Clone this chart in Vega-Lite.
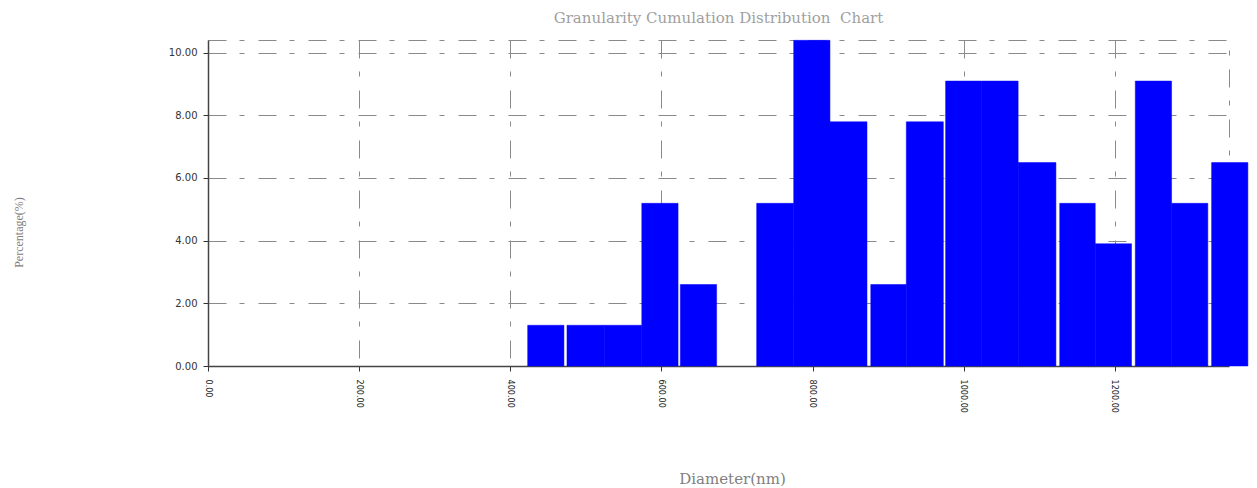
{
  "$schema": "https://vega.github.io/schema/vega-lite/v6.json",
  "autosize": "none",
  "width": 1021,
  "height": 326,
  "padding": {"left": 208, "top": 40, "right": 28, "bottom": 122},
  "background": "white",
  "title": {
    "text": "Granularity Cumulation Distribution\u00a0 Chart",
    "font": "DejaVu Serif",
    "fontSize": 15,
    "fontWeight": "normal",
    "color": "#a0a0a0",
    "offset": 14,
    "anchor": "middle"
  },
  "config": {
    "view": {"stroke": "#8a8a8a", "strokeWidth": 1, "strokeDash": [18, 13, 5, 14]}
  },
  "data": {
    "values": [
      {"lo": 423, "hi": 471, "pct": 1.30},
      {"lo": 475, "hi": 525, "pct": 1.30},
      {"lo": 525, "hi": 574, "pct": 1.30},
      {"lo": 574, "hi": 622, "pct": 5.19},
      {"lo": 625, "hi": 673, "pct": 2.60},
      {"lo": 726, "hi": 775, "pct": 5.19},
      {"lo": 775, "hi": 823, "pct": 10.39},
      {"lo": 823, "hi": 872, "pct": 7.79},
      {"lo": 877, "hi": 924, "pct": 2.60},
      {"lo": 924, "hi": 973, "pct": 7.79},
      {"lo": 976, "hi": 1024, "pct": 9.09},
      {"lo": 1024, "hi": 1072, "pct": 9.09},
      {"lo": 1072, "hi": 1122, "pct": 6.49},
      {"lo": 1127, "hi": 1174, "pct": 5.19},
      {"lo": 1174, "hi": 1222, "pct": 3.90},
      {"lo": 1227, "hi": 1275, "pct": 9.09},
      {"lo": 1275, "hi": 1323, "pct": 5.19},
      {"lo": 1328, "hi": 1376, "pct": 6.49}
    ]
  },
  "mark": {"type": "bar", "color": "#0000ff", "stroke": "#0000ff", "strokeWidth": 0.5, "clip": false},
  "encoding": {
    "x": {
      "field": "lo",
      "type": "quantitative",
      "scale": {"domain": [0, 1351], "nice": false, "zero": true},
      "axis": {
        "title": "Diameter(nm)",
        "titleFont": "DejaVu Serif",
        "titleFontSize": 15,
        "titleFontWeight": "normal",
        "titleColor": "#808080",
        "titleX": 524,
        "titleY": 112,
        "titleBaseline": "middle",
        "values": [0, 200, 400, 600, 800, 1000, 1200],
        "format": ".2f",
        "labelAngle": 90,
        "labelAlign": "left",
        "labelBaseline": "middle",
        "labelFont": "DejaVu Sans Condensed",
        "labelFontSize": 9,
        "labelColor": "#222",
        "labelPadding": 8,
        "tickSize": 5,
        "tickColor": "#333",
        "domainColor": "#444",
        "domainWidth": 1.5,
        "grid": true,
        "gridColor": "#8a8a8a",
        "gridDash": [18, 13, 5, 14],
        "gridWidth": 1
      }
    },
    "x2": {"field": "hi"},
    "y": {
      "field": "pct",
      "type": "quantitative",
      "scale": {"domain": [0, 10.4], "nice": false},
      "axis": {
        "title": "Percentage(%)",
        "titleFont": "Liberation Serif",
        "titleFontSize": 12,
        "titleFontWeight": "normal",
        "titleColor": "#808080",
        "titleX": -183,
        "titleY": 192,
        "values": [0, 2, 4, 6, 8, 10],
        "format": ".2f",
        "labelFont": "DejaVu Sans",
        "labelFontSize": 10,
        "labelColor": "#333",
        "labelPadding": 6,
        "tickSize": 5,
        "tickColor": "#333",
        "domainColor": "#444",
        "domainWidth": 1.5,
        "grid": true,
        "gridColor": "#8a8a8a",
        "gridDash": [18, 13, 5, 14],
        "gridWidth": 1
      }
    },
    "y2": {"datum": 0}
  }
}
